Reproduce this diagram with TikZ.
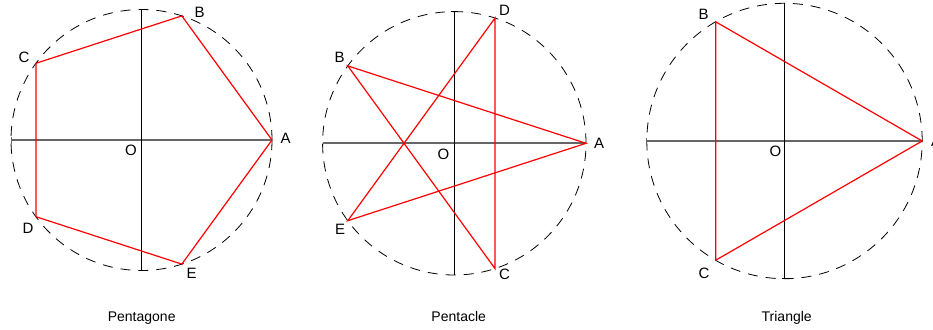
\documentclass[tikz,border=0pt]{standalone}
\usepackage{fontspec}
\setmainfont{Liberation Sans}
\usetikzlibrary{calc}
\tikzset{
  circ/.style={draw=black, line width=0.8pt, dash pattern=on 10pt off 8pt},
  haxis/.style={draw=black!60, line width=1.8pt},
  vaxis/.style={draw=black, line width=1pt},
  poly/.style={draw=red, line width=1.2pt, line join=miter},
  lbl/.style={inner sep=0pt, font=\fontsize{15}{15}\selectfont},
  ttl/.style={inner sep=0pt, anchor=base, font=\fontsize{14}{14}\selectfont}
}
\begin{document}
\begin{tikzpicture}[x=1pt,y=-1pt]
\useasboundingbox (0,0) rectangle (933,329);
% ---------- Pentagone ----------
\coordinate (O1) at (141.5,140);
\coordinate (P1A) at ($(O1)+(0:130.5pt)$);
\coordinate (P1B) at ($(O1)+(72:130.5pt)$);
\coordinate (P1C) at ($(O1)+(144:130.5pt)$);
\coordinate (P1D) at ($(O1)+(216:130.5pt)$);
\coordinate (P1E) at ($(O1)+(288:130.5pt)$);
\coordinate (L1) at ($(O1)+(180:130.5pt)$);
\coordinate (T1) at ($(O1)+(90:130.5pt)$);
\coordinate (B1) at ($(O1)+(270:130.5pt)$);
\draw[circ] (O1) circle[radius=130.5pt];
\draw[haxis] (L1) -- (P1A);
\draw[vaxis] (T1) -- (B1);
\draw[black!60, line width=1pt] ($(L1)+(0,-3.5)$) -- ($(L1)+(0,3.5)$);
\draw[vaxis] (T1) -- ++(5.5,0);
\draw[poly] (P1A) -- (P1B) -- (P1C) -- (P1D) -- (P1E) -- cycle;
\node[lbl] (lA1) at (285.5,138.5) {A};
\node[lbl] (lB1) at (199.5,12) {B};
\node[lbl] (lC1) at (24,57) {C};
\node[lbl] (lD1) at (28,228.5) {D};
\node[lbl] (lE1) at (191.5,273.5) {E};
\node[lbl] (lO1) at (131,150.5) {O};
\node[ttl] (t1) at (141.7,321) {Pentagone};
% ---------- Pentacle ----------
\coordinate (O2) at (454.3,143.3);
\coordinate (P2A) at ($(O2)+(0:131.7pt)$);
\coordinate (P2D) at ($(O2)+(72:131.7pt)$);
\coordinate (P2B) at ($(O2)+(144:131.7pt)$);
\coordinate (P2E) at ($(O2)+(216:131.7pt)$);
\coordinate (P2C) at ($(O2)+(288:131.7pt)$);
\coordinate (L2) at ($(O2)+(180:131.7pt)$);
\coordinate (T2) at ($(O2)+(90:131.7pt)$);
\coordinate (B2) at ($(O2)+(270:131.7pt)$);
\draw[circ] (O2) circle[radius=131.7pt];
\draw[haxis] (L2) -- (P2A);
\draw[vaxis] (T2) -- (B2);
\draw[vaxis] ($(T2)+(-3,0)$) -- ($(T2)+(3,0)$);
\draw[poly] (P2A) -- (P2B) -- (P2C) -- (P2D) -- (P2E) -- cycle;
\node[lbl] (lA2) at (599,143) {A};
\node[lbl] (lB2) at (339.5,57) {B};
\node[lbl] (lC2) at (504.5,274) {C};
\node[lbl] (lD2) at (504.5,10) {D};
\node[lbl] (lE2) at (340,229) {E};
\node[lbl] (lO2) at (443.5,154.5) {O};
\node[ttl] (t2) at (458.7,321) {Pentacle};
% ---------- Triangle ----------
\coordinate (O3) at (784.5,141);
\coordinate (P3A) at ($(O3)+(0:137.7pt)$);
\coordinate (P3B) at ($(O3)+(120:137.7pt)$);
\coordinate (P3C) at ($(O3)+(240:137.7pt)$);
\coordinate (L3) at ($(O3)+(180:137.7pt)$);
\coordinate (T3) at ($(O3)+(90:137.7pt)$);
\coordinate (B3) at ($(O3)+(270:137.7pt)$);
\draw[circ] (O3) circle[radius=137.7pt];
\draw[haxis] (L3) -- (P3A);
\draw[vaxis] (T3) -- (B3);
\draw[black!60, line width=1pt] ($(L3)+(0,-3.5)$) -- ($(L3)+(0,3.5)$);
\draw[vaxis] ($(B3)+(-3,0)$) -- ($(B3)+(4,0)$);
\draw[poly] (P3A) -- (P3B) -- (P3C) -- cycle;
\node[lbl] (lA3) at (936,141) {A};
\node[lbl] (lB3) at (703.5,14.5) {B};
\node[lbl] (lC3) at (704,273.5) {C};
\node[lbl] (lO3) at (775.5,151.5) {O};
\node[ttl] (t3) at (786.7,321) {Triangle};
\end{tikzpicture}
\end{document}
